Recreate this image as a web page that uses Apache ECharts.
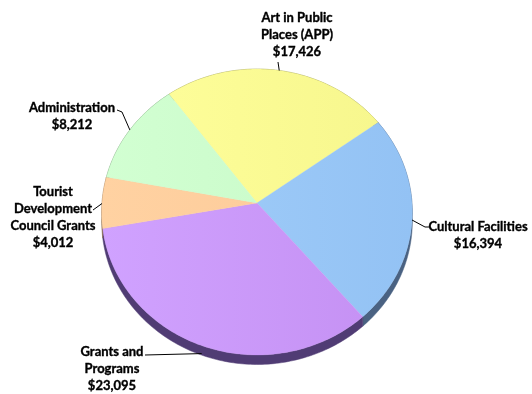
<!DOCTYPE html>
<html>
<head>
<meta charset="utf-8">
<style>
  html, body { margin: 0; padding: 0; background: #fff; }
  #chart { width: 532px; height: 394px; }
</style>
<script src="https://cdn.jsdelivr.net/npm/echarts@6/dist/echarts.min.js"></script>
</head>
<body>
<div id="chart"></div>
<script>
// 数据
const categories = ['Art in Public\nPlaces (APP)', 'Cultural Facilities', 'Grants and\nPrograms', 'Tourist\nDevelopment\nCouncil Grants', 'Administration'];
const values = [17426, 16394, 23095, 4012, 8212];
const valueLabels = ['$17,426', '$16,394', '$23,095', '$4,012', '$8,212'];

// 饼图几何（透视的椭圆盘）
const PIE = { cx: 257, cy: 203, rx: 155, ry: 142.4, persp: 0.063, depth: 9.5, startAngle: 323.4 };

// 颜色：顶面渐变 + 侧面
const TOP_COLORS = [
  ['#ffff9c', '#f6f68c'],
  ['#a3cffa', '#93c2f4'],
  ['#d0a2ff', '#c48ff2'],
  ['#ffd2a2', '#fcc896'],
  ['#d2ffd2', '#c6f9c6']
];
const SIDE_COLORS = ['#8c8c50', '#4a6282', '#503c74', '#8c6e50', '#6a8a6a'];

// 标签位置（文本中心、引线起点、拐点、锚点偏移）
const LABELS = [
  { x: 297, y: 35, attach: [278, 62], elbow: null, anchorDy: 0 },
  { x: 478, y: 235, attach: [430, 227], elbow: [425, 227], anchorDy: 0 },
  { x: 112, y: 369, attach: [145, 355], elbow: null, anchorDy: 8 },
  { x: 53, y: 217, attach: [93, 210], elbow: null, anchorDy: 1 },
  { x: 72, y: 116, attach: [117, 110], elbow: [122, 112], anchorDy: 0 }
];

const total = values.reduce((a, b) => a + b, 0);
const startAngles = [];
let acc = 0;
values.forEach(v => { startAngles.push(PIE.startAngle + 360 * acc / total); acc += v; });

// 角度（从正上方顺时针）投影到屏幕
function project(deg) {
  const t = deg * Math.PI / 180;
  const u = Math.sin(t), v = Math.cos(t);
  const d = 1 + PIE.persp * v;
  return [PIE.cx + PIE.rx * u / d, PIE.cy - PIE.ry * v / d];
}

function arcPoints(a0, a1) {
  const pts = [];
  const n = Math.max(2, Math.ceil((a1 - a0) / 1));
  for (let k = 0; k <= n; k++) pts.push(project(a0 + (a1 - a0) * k / n));
  return pts;
}

function renderItem(params, api) {
  const i = params.dataIndex;
  const a0 = startAngles[i];
  const a1 = a0 + 360 * api.value(0) / total;
  const rim = arcPoints(a0, a1);
  const lower = rim.map(p => [p[0], p[1] + PIE.depth]).reverse();

  const mid = project((a0 + a1) / 2);
  const lab = LABELS[i];
  const anchor = [mid[0], mid[1] + lab.anchorDy];
  const leader = [lab.attach];
  if (lab.elbow) leader.push(lab.elbow);
  leader.push(anchor);

  return {
    type: 'group',
    children: [
      {
        type: 'polygon', z2: 1,
        shape: { points: rim.concat(lower) },
        style: { fill: SIDE_COLORS[i], stroke: SIDE_COLORS[i], lineWidth: 0.5 }
      },
      {
        type: 'polygon', z2: 10,
        shape: { points: [[PIE.cx, PIE.cy]].concat(rim) },
        style: {
          fill: new echarts.graphic.LinearGradient(102, 0, 412, 0, [
            { offset: 0, color: TOP_COLORS[i][0] },
            { offset: 1, color: TOP_COLORS[i][1] }
          ], true),
          stroke: TOP_COLORS[i][1], lineWidth: 0.3
        }
      },
      {
        type: 'polyline', z2: 20,
        shape: { points: leader },
        style: { stroke: '#000', lineWidth: 1, fill: null }
      },
      {
        type: 'text', z2: 20,
        x: lab.x, y: lab.y,
        style: {
          text: categories[i] + '\n' + valueLabels[i],
          fill: '#000',
          font: 'bold 13px Lato',
          lineHeight: 17,
          align: 'center',
          verticalAlign: 'middle',
          stroke: '#000',
          lineWidth: 0.35
        }
      }
    ]
  };
}

const chart = echarts.init(document.getElementById('chart'));
chart.setOption({
  animation: false,
  backgroundColor: '#fff',
  series: [{
    type: 'custom',
    coordinateSystem: 'none',
    renderItem: renderItem,
    data: values.map(v => [v])
  }]
});
</script>
</body>
</html>
